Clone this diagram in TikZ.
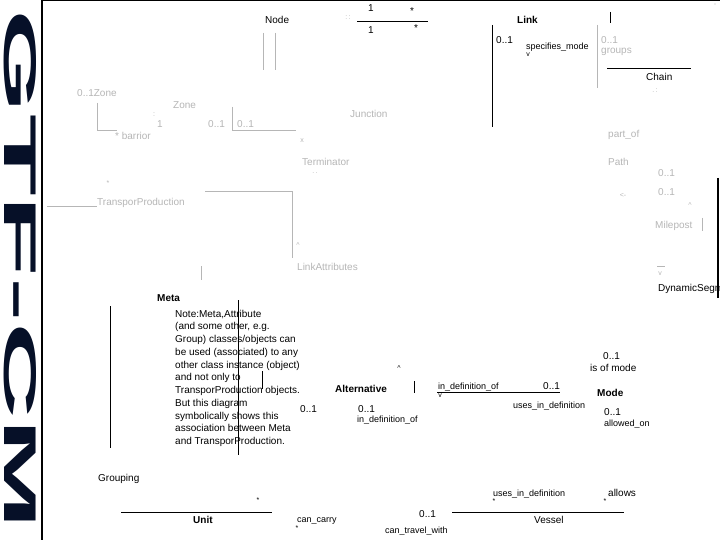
\documentclass[tikz,border=0pt]{standalone}
\usepackage{fontspec}
\setmainfont{Liberation Sans}
\usepackage{graphicx}
\definecolor{lg}{RGB}{182,182,182}
\definecolor{logoc}{RGB}{6,16,40}
\begin{document}
\begin{tikzpicture}[x=1pt,y=-1pt,
  t/.style={anchor=base west,inner sep=0,font=\fontsize{10}{12}\selectfont},
  r/.style={anchor=base west,inner sep=0,font=\fontsize{9}{11}\selectfont},
  g/.style={t,text=lg},
  b/.style={anchor=base west,inner sep=0,font=\fontsize{10}{12}\selectfont\bfseries},
  sm/.style={anchor=center,inner sep=0,font=\fontsize{7}{8}\selectfont},
  gsm/.style={sm,text=lg},
  bl/.style={line width=1pt},
  gl/.style={draw=lg,line width=0.8pt}]
\clip (0,0) rectangle (720,540);
\fill[white] (0,0) rectangle (720,540);
% logo and frame
\node[rotate=-90,text=logoc,inner sep=0] (logo) at (20,270)
  {\resizebox{520pt}{32pt}{\bfseries GTF-CM}};
\draw[line width=1.5pt] (42,0) -- (42,540);
\draw[line width=1.5pt] (42,0.7) -- (720,0.7);
\draw[line width=1.5pt] (718,178) -- (718,298);
\fill[lg] (715,4) circle (0.7);
% Node area
\node[t] (node) at (265,24) {Node};
\draw[gl] (263,33) -- (263,70);
\draw[gl] (275,33) -- (275,70);
\node[gsm] (dots1) at (348,18) {:\,:};
\node[t] (m1a) at (368,12) {1};
\node[t] (s1a) at (410,15) {*};
\draw[bl] (357,22) -- (428,22);
\node[t] (m1b) at (368,34) {1};
\node[t] (s1b) at (414,32) {*};
% Link
\node[b] (link) at (517,24) {Link};
\draw[bl] (492,25) -- (492,127);
\draw[bl] (610,12) -- (610,23);
\node[t] (l01) at (496,44) {0..1};
\node[r] (spec) at (526,50) {specifies\_mode};
\node[sm] (specv) at (528,55) {v};
\draw[gl] (597,25) -- (597,88);
\node[g] (g01) at (601,44) {0..1};
\node[g] (groups) at (601,54) {groups};
\draw[bl] (607,69) -- (691,69);
\node[t] (chain) at (646,81) {Chain};
\node[gsm] (chd) at (655,91) {.\,:};
% Zone area
\node[g] (zone01) at (77,97) {0..1Zone};
\draw[gl] (97,103) -- (97,130) -- (117,130);
\node[g] (barrior) at (115,140) {* barrior};
\node[gsm] (zd) at (154,115) {:};
\node[g] (z1) at (157,128) {1};
\node[g] (zone) at (173,109) {Zone};
\node[g] (z01a) at (208,128) {0..1};
\draw[gl] (232,107) -- (232,130) -- (296,130);
\node[g] (z01b) at (237,128) {0..1};
\node[gsm] (zx) at (302,141) {x};
\node[g] (junction) at (350,118) {Junction};
\node[g] (terminator) at (302,166) {Terminator};
\node[gsm] (tm) at (315,173) {.\,.};
% Path area
\node[g] (partof) at (608,138) {part\_of};
\node[g] (path) at (608,166) {Path};
\node[g] (p01a) at (658,177) {0..1};
\node[gsm] (arr) at (623,195) {<-};
\node[g] (p01b) at (658,196) {0..1};
\node[gsm] (pcar) at (690,205) {\^{}};
\node[g] (milepost) at (655,229) {Milepost};
\draw[gl] (702,218) -- (702,231);
\draw[gl] (657,266) -- (665,266);
\node[gsm] (dsv) at (660,274) {v};
\node[t] (dyn) at (658,291) {DynamicSegment};
% TransporProduction
\node[gsm] (tpstar) at (108,183) {*};
\draw[gl] (47,206) -- (97,206);
\node[g] (tp) at (97,206) {TransporProduction};
\draw[gl] (205,191) -- (292,191) -- (292,258);
\node[gsm] (lacar) at (298,245) {\^{}};
\node[g] (linkattr) at (297,270) {LinkAttributes};
\draw[gl] (201,266) -- (201,280);
% Meta and note
\node[b] (meta) at (157,301) {Meta};
\draw[bl] (110,306) -- (110,448);
\foreach \s [count=\i from 0] in {{Note:Meta,Attribute},{(and some other, e.g.},{Group) classes/objects can},{be used (associated) to any},{other class instance (object)},{and not only to},{TransporProduction objects.},{But this diagram},{symbolically shows this},{association between Meta},{and TransporProduction.}}
  \node[t] (note\i) at (175,317+12.75*\i) {\s};
\draw[bl] (238,300) -- (238,455);
\draw[bl] (262,371) -- (262,389);
% Alternative / Mode
\node[t] (a01a) at (300,412) {0..1};
\node[sm] (altcar) at (399,368) {\^{}};
\node[b] (alt) at (335,392) {Alternative};
\draw[bl] (414,381) -- (414,393);
\node[t] (a01b) at (358,412) {0..1};
\node[r] (indef1) at (357,422) {in\_definition\_of};
\node[r] (indef2) at (438,389) {in\_definition\_of};
\draw[bl] (437,392) -- (560,392);
\node[sm] (indefv) at (440,396) {v};
\node[t] (m01a) at (543,389) {0..1};
\node[r] (uses1) at (513,408) {uses\_in\_definition};
\node[t] (m01b) at (603,359) {0..1};
\node[t] (isof) at (590,371) {is of mode};
\node[b] (mode) at (597,396) {Mode};
\node[t] (m01c) at (604,415) {0..1};
\node[r] (allowed) at (604,426) {allowed\_on};
% bottom
\node[t] (grouping) at (98,481) {Grouping};
\draw[bl] (121,512) -- (272,512);
\node[sm] (ustar) at (258,500) {*};
\node[b] (unit) at (193,523) {Unit};
\node[r] (cancarry) at (297,522) {can\_carry};
\node[sm] (ccstar) at (297,528) {*};
\node[t] (v01) at (419,517) {0..1};
\node[r] (cantravel) at (385,533) {can\_travel\_with};
\draw[bl] (452,512) -- (624,512);
\node[r] (uses2) at (493,496) {uses\_in\_definition};
\node[sm] (u2star) at (494,501) {*};
\node[t] (allows) at (608,496) {allows};
\node[sm] (alstar) at (605,501) {*};
\node[t] (vessel) at (534,523) {Vessel};
\end{tikzpicture}
\end{document}
